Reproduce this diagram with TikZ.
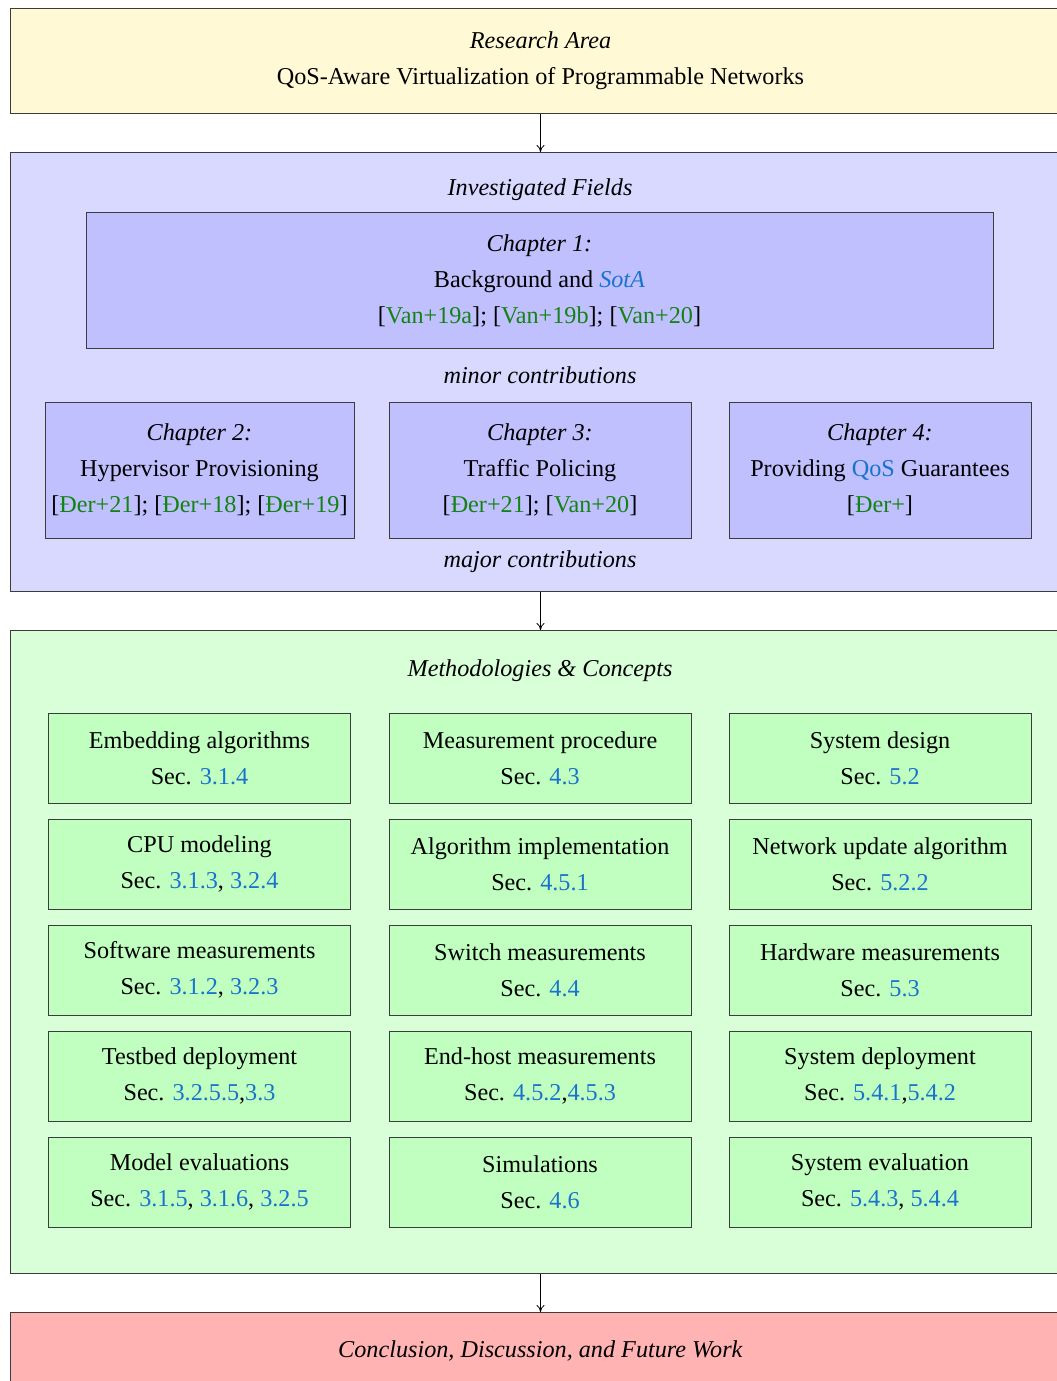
\documentclass[tikz,border=0pt]{standalone}
\usepackage{fontspec}
\setmainfont{Liberation Serif}
\usetikzlibrary{arrows.meta}

\definecolor{areafill}{RGB}{255,249,214}
\definecolor{fieldfill}{RGB}{217,217,255}
\definecolor{chapfill}{RGB}{192,192,255}
\definecolor{methfill}{RGB}{217,255,217}
\definecolor{itemfill}{RGB}{192,255,192}
\definecolor{endfill}{RGB}{255,179,179}
\definecolor{citegreen}{RGB}{20,130,20}
\definecolor{linkblue}{RGB}{25,115,205}
\definecolor{edgegray}{RGB}{60,60,60}

\newcommand\cit[1]{{\color{citegreen}#1}}
\newcommand\lnk[1]{{\color{linkblue}#1}}

\tikzset{
  txt/.style={font=\fontsize{24.2}{36}\selectfont, align=center, inner sep=0pt},
  outerbox/.style={txt, draw=edgegray, line width=1pt, minimum width=1060pt, anchor=north west},
  chapbox/.style={txt, draw=edgegray, line width=0.9pt, fill=chapfill, minimum height=136pt},
  itembox/.style={txt, draw=edgegray, line width=0.9pt, fill=itemfill, minimum height=90pt, minimum width=302pt},
  flow/.style={draw=black, line width=0.8pt, -{To[length=7pt,width=8pt]}},
}

\begin{document}
\begin{tikzpicture}[x=1pt, y=-1pt]
\useasboundingbox (0,0) rectangle (1057,1381);
\clip (0,0) rectangle (1057,1381);

% research area
\node[outerbox, fill=areafill, minimum height=105pt] (area) at (10,8)
  {\textit{Research Area}\\QoS-Aware Virtualization of Programmable Networks};

% investigated fields
\node[outerbox, fill=fieldfill, minimum height=439pt] (fields) at (10,152) {};
\node[txt] (fieldstitle) at (540,190) {\textit{Investigated Fields}};
\node[chapbox, minimum width=907pt] (ch1) at (539.5,280.5)
  {\textit{Chapter 1:}\\Background and \lnk{\textit{SotA}}\\{}%
   [\cit{Van+19a}]; [\cit{Van+19b}]; [\cit{Van+20}]};
\node[txt] (minor) at (540,375) {\textit{minor contributions}};
\node[chapbox, minimum width=309pt] (ch2) at (199.5,470)
  {\textit{Chapter 2:}\\Hypervisor Provisioning\\{}%
   [\cit{Đer+21}]; [\cit{Đer+18}]; [\cit{Đer+19}]};
\node[chapbox, minimum width=302pt] (ch3) at (540,470)
  {\textit{Chapter 3:}\\Traffic Policing\\{}%
   [\cit{Đer+21}]; [\cit{Van+20}]};
\node[chapbox, minimum width=302pt] (ch4) at (880,470)
  {\textit{Chapter 4:}\\Providing \lnk{QoS} Guarantees\\{}%
   [\cit{Đer+}]};
\node[txt] (major) at (540,562) {\textit{major contributions}};

% methodologies
\node[outerbox, fill=methfill, minimum height=643pt] (meth) at (10,630) {};
\node[txt] (methtitle) at (540,671) {\textit{Methodologies \& Concepts}};

\node[itembox] (m11) at (199.5,758) {Embedding algorithms\\Sec. \lnk{3.1.4}};
\node[itembox] (m12) at (540,758)   {Measurement procedure\\Sec. \lnk{4.3}};
\node[itembox] (m13) at (880,758)   {System design\\Sec. \lnk{5.2}};

\node[itembox] (m21) at (199.5,864) {CPU modeling\\Sec. \lnk{3.1.3}, \lnk{3.2.4}};
\node[itembox] (m22) at (540,864)   {Algorithm implementation\\Sec. \lnk{4.5.1}};
\node[itembox] (m23) at (880,864)   {Network update algorithm\\Sec. \lnk{5.2.2}};

\node[itembox] (m31) at (199.5,970) {Software measurements\\Sec. \lnk{3.1.2}, \lnk{3.2.3}};
\node[itembox] (m32) at (540,970)   {Switch measurements\\Sec. \lnk{4.4}};
\node[itembox] (m33) at (880,970)   {Hardware measurements\\Sec. \lnk{5.3}};

\node[itembox] (m41) at (199.5,1076) {Testbed deployment\\Sec. \lnk{3.2.5.5},\lnk{3.3}};
\node[itembox] (m42) at (540,1076)   {End-host measurements\\Sec. \lnk{4.5.2},\lnk{4.5.3}};
\node[itembox] (m43) at (880,1076)   {System deployment\\Sec. \lnk{5.4.1},\lnk{5.4.2}};

\node[itembox] (m51) at (199.5,1182) {Model evaluations\\Sec. \lnk{3.1.5}, \lnk{3.1.6}, \lnk{3.2.5}};
\node[itembox] (m52) at (540,1182)   {Simulations\\Sec. \lnk{4.6}};
\node[itembox] (m53) at (880,1182)   {System evaluation\\Sec. \lnk{5.4.3}, \lnk{5.4.4}};

% conclusion
\node[outerbox, fill=endfill, minimum height=76pt] (concl) at (10,1312)
  {\textit{Conclusion, Discussion, and Future Work}};

% flow between stages
\draw[flow] (area.south) -- (fields.north);
\draw[flow] (fields.south) -- (meth.north);
\draw[flow] (meth.south) -- (concl.north);
\end{tikzpicture}
\end{document}
